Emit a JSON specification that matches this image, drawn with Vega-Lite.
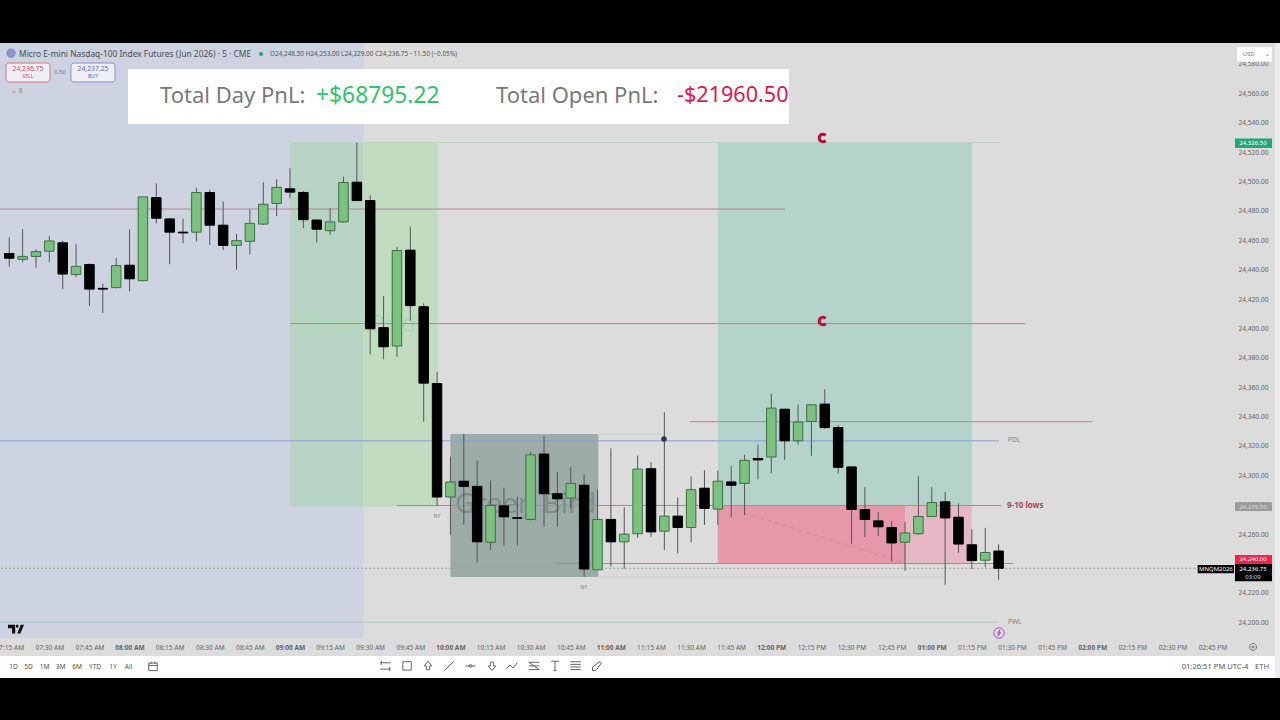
{
"$schema":"https://vega.github.io/schema/vega-lite/v6.json",
"width":1280,"height":720,"autosize":"none","padding":0,"background":"#dcdcdc",
"config":{"view":{"stroke":null},"legend":{"disable":true},"text":{"font":"Noto Sans"}},
"resolve":{"scale":{"color":"independent","size":"independent","shape":"independent","stroke":"independent"}},
"datasets":{
"zones":[
{"t":"2026-05-01T07:00:00Z","t2":"2026-05-01T09:27:30Z","p":24189.3,"p2":24594.2,"kind":"session"},
{"t":"2026-05-01T09:00:00Z","t2":"2026-05-01T09:27:30Z","p":24278.7,"p2":24526.5,"kind":"greenA"},
{"t":"2026-05-01T09:27:30Z","t2":"2026-05-01T09:55:30Z","p":24278.7,"p2":24526.5,"kind":"greenB"},
{"t":"2026-05-01T11:40:00Z","t2":"2026-05-01T13:15:00Z","p":24279.5,"p2":24526.5,"kind":"teal"},
{"t":"2026-05-01T11:40:00Z","t2":"2026-05-01T12:50:00Z","p":24240,"p2":24279.5,"kind":"pinkA"},
{"t":"2026-05-01T12:50:00Z","t2":"2026-05-01T13:15:00Z","p":24240,"p2":24279.5,"kind":"pinkB"},
{"t":"2026-05-01T10:00:00Z","t2":"2026-05-01T10:55:18Z","p":24230.8,"p2":24328.1,"kind":"slate"}
],
"lines":[
{"t":"2026-05-01T07:00:00Z","t2":"2026-05-01T12:05:00Z","p":24481.25,"kind":"mauve"},
{"t":"2026-05-01T09:00:00Z","t2":"2026-05-01T13:35:00Z","p":24403.25,"kind":"rose"},
{"t":"2026-05-01T11:29:36Z","t2":"2026-05-01T14:00:00Z","p":24336.5,"kind":"mauve"},
{"t":"2026-05-01T07:00:00Z","t2":"2026-05-01T13:25:00Z","p":24323.5,"kind":"blue"},
{"t":"2026-05-01T09:40:00Z","t2":"2026-05-01T13:26:00Z","p":24279.5,"kind":"mauve"},
{"t":"2026-05-01T10:39:28Z","t2":"2026-05-01T13:30:22Z","p":24240,"kind":"rose"},
{"t":"2026-05-01T07:00:00Z","t2":"2026-05-01T13:25:00Z","p":24200,"kind":"teal"},
{"t":"2026-05-01T09:00:00Z","t2":"2026-05-01T13:25:30Z","p":24526.5,"kind":"pale"},
{"t":"2026-05-01T10:55:00Z","t2":"2026-05-01T11:18:24Z","p":24328.1,"kind":"faint"},
{"t":"2026-05-01T10:55:00Z","t2":"2026-05-01T13:05:00Z","p":24230.8,"kind":"faint"}
],
"last":[{"t":"2026-05-01T07:00:00Z","t2":"2026-05-01T14:39:12Z","p":24236.75}],
"trend":[{"t":"2026-05-01T11:50:00Z","p":24274.4},{"t":"2026-05-01T12:50:00Z","p":24240.4}],
"marks":[
{"t":"2026-05-01T09:01:51Z","p":24402.3,"text":"Green Bird","style":"wmA"},
{"t":"2026-05-01T10:01:45Z","p":24279.8,"text":"Green Bird","style":"wmB"}
],
"candles":[
{"t":"2026-05-01T07:15:00Z","o":24451,"h":24462,"l":24442,"c":24447.75},
{"t":"2026-05-01T07:20:00Z","o":24447,"h":24467.5,"l":24445,"c":24449},
{"t":"2026-05-01T07:25:00Z","o":24449,"h":24453.75,"l":24441.25,"c":24452.25},
{"t":"2026-05-01T07:30:00Z","o":24452.5,"h":24463,"l":24445,"c":24459.5},
{"t":"2026-05-01T07:35:00Z","o":24458.25,"h":24459.75,"l":24426.75,"c":24437},
{"t":"2026-05-01T07:40:00Z","o":24436.75,"h":24457.5,"l":24435,"c":24442.25},
{"t":"2026-05-01T07:45:00Z","o":24443.5,"h":24444.25,"l":24415.25,"c":24426.75},
{"t":"2026-05-01T07:50:00Z","o":24427.25,"h":24430.5,"l":24410.5,"c":24426.75},
{"t":"2026-05-01T07:55:00Z","o":24427.75,"h":24448,"l":24427.25,"c":24442.75},
{"t":"2026-05-01T08:00:00Z","o":24443,"h":24467.5,"l":24425.25,"c":24433.75},
{"t":"2026-05-01T08:05:00Z","o":24432.5,"h":24489.5,"l":24432,"c":24489.5},
{"t":"2026-05-01T08:10:00Z","o":24489,"h":24498.75,"l":24471.5,"c":24475},
{"t":"2026-05-01T08:15:00Z","o":24474.5,"h":24475.25,"l":24443.75,"c":24465.5},
{"t":"2026-05-01T08:20:00Z","o":24465.5,"h":24474.75,"l":24458,"c":24465},
{"t":"2026-05-01T08:25:00Z","o":24465.5,"h":24495.75,"l":24459.25,"c":24492.5},
{"t":"2026-05-01T08:30:00Z","o":24492.5,"h":24494.5,"l":24456.75,"c":24470.25},
{"t":"2026-05-01T08:35:00Z","o":24470.25,"h":24486.5,"l":24453.25,"c":24456.5},
{"t":"2026-05-01T08:40:00Z","o":24456.5,"h":24464.25,"l":24440,"c":24459.75},
{"t":"2026-05-01T08:45:00Z","o":24459.25,"h":24481,"l":24450.25,"c":24471.5},
{"t":"2026-05-01T08:50:00Z","o":24471,"h":24499.5,"l":24470.25,"c":24484.5},
{"t":"2026-05-01T08:55:00Z","o":24485,"h":24501.5,"l":24476.5,"c":24496},
{"t":"2026-05-01T09:00:00Z","o":24495,"h":24509,"l":24488.5,"c":24492.75},
{"t":"2026-05-01T09:05:00Z","o":24492.5,"h":24493.5,"l":24468.25,"c":24474},
{"t":"2026-05-01T09:10:00Z","o":24473.75,"h":24474.25,"l":24458.5,"c":24467.5},
{"t":"2026-05-01T09:15:00Z","o":24466.5,"h":24481.75,"l":24463.75,"c":24472.5},
{"t":"2026-05-01T09:20:00Z","o":24472.5,"h":24503.25,"l":24472,"c":24499.25},
{"t":"2026-05-01T09:25:00Z","o":24499.5,"h":24526.5,"l":24487,"c":24487},
{"t":"2026-05-01T09:30:00Z","o":24487,"h":24490.5,"l":24382.25,"c":24399.75},
{"t":"2026-05-01T09:35:00Z","o":24400.5,"h":24422,"l":24379,"c":24387.5},
{"t":"2026-05-01T09:40:00Z","o":24388,"h":24455.5,"l":24380.75,"c":24453},
{"t":"2026-05-01T09:45:00Z","o":24453.25,"h":24469.25,"l":24405.25,"c":24415.5},
{"t":"2026-05-01T09:50:00Z","o":24414.75,"h":24417,"l":24336.5,"c":24362.75},
{"t":"2026-05-01T09:55:00Z","o":24362.5,"h":24370.5,"l":24279.5,"c":24285.25},
{"t":"2026-05-01T10:00:00Z","o":24285.25,"h":24312.75,"l":24259.5,"c":24295.5},
{"t":"2026-05-01T10:05:00Z","o":24296,"h":24328.25,"l":24266.25,"c":24292.5},
{"t":"2026-05-01T10:10:00Z","o":24292.5,"h":24310,"l":24240.5,"c":24254.75},
{"t":"2026-05-01T10:15:00Z","o":24254.5,"h":24296.5,"l":24249.25,"c":24279.5},
{"t":"2026-05-01T10:20:00Z","o":24279.25,"h":24291.5,"l":24252.25,"c":24271.75},
{"t":"2026-05-01T10:25:00Z","o":24271.25,"h":24285.5,"l":24252.5,"c":24270.75},
{"t":"2026-05-01T10:30:00Z","o":24270,"h":24316,"l":24269.5,"c":24314},
{"t":"2026-05-01T10:35:00Z","o":24314.5,"h":24326.75,"l":24265,"c":24287.5},
{"t":"2026-05-01T10:40:00Z","o":24287.5,"h":24302.25,"l":24265,"c":24284},
{"t":"2026-05-01T10:45:00Z","o":24284.5,"h":24305.5,"l":24277.5,"c":24294.5},
{"t":"2026-05-01T10:50:00Z","o":24293.25,"h":24300.5,"l":24231,"c":24236.25},
{"t":"2026-05-01T10:55:00Z","o":24235.75,"h":24290.5,"l":24235.5,"c":24270},
{"t":"2026-05-01T11:00:00Z","o":24270,"h":24318.5,"l":24238,"c":24254.75},
{"t":"2026-05-01T11:05:00Z","o":24254.75,"h":24278.25,"l":24236.5,"c":24260},
{"t":"2026-05-01T11:10:00Z","o":24260.25,"h":24313.5,"l":24257.5,"c":24304.25},
{"t":"2026-05-01T11:15:00Z","o":24304.5,"h":24309,"l":24258.25,"c":24261.5},
{"t":"2026-05-01T11:20:00Z","o":24262,"h":24343,"l":24249.25,"c":24272.25},
{"t":"2026-05-01T11:25:00Z","o":24272.25,"h":24285,"l":24247,"c":24264.5},
{"t":"2026-05-01T11:30:00Z","o":24264.5,"h":24299.25,"l":24254.25,"c":24290.25},
{"t":"2026-05-01T11:35:00Z","o":24291.25,"h":24303.5,"l":24266.25,"c":24277.5},
{"t":"2026-05-01T11:40:00Z","o":24277,"h":24303.25,"l":24266.25,"c":24296},
{"t":"2026-05-01T11:45:00Z","o":24295.5,"h":24306.5,"l":24271.5,"c":24293.25},
{"t":"2026-05-01T11:50:00Z","o":24294.5,"h":24314,"l":24273,"c":24310.25},
{"t":"2026-05-01T11:55:00Z","o":24311.5,"h":24321,"l":24297.25,"c":24310.5},
{"t":"2026-05-01T12:00:00Z","o":24312.5,"h":24355.5,"l":24301.5,"c":24345.75},
{"t":"2026-05-01T12:05:00Z","o":24345,"h":24345.25,"l":24310.5,"c":24323.5},
{"t":"2026-05-01T12:10:00Z","o":24323.5,"h":24348.25,"l":24321,"c":24336.25},
{"t":"2026-05-01T12:15:00Z","o":24336.75,"h":24348.5,"l":24313.25,"c":24348},
{"t":"2026-05-01T12:20:00Z","o":24348.5,"h":24358.5,"l":24331.75,"c":24332.5},
{"t":"2026-05-01T12:25:00Z","o":24332.5,"h":24334.25,"l":24301.25,"c":24305.5},
{"t":"2026-05-01T12:30:00Z","o":24305.75,"h":24306,"l":24253.5,"c":24276.75},
{"t":"2026-05-01T12:35:00Z","o":24276.75,"h":24292,"l":24258,"c":24270},
{"t":"2026-05-01T12:40:00Z","o":24269,"h":24275,"l":24258.75,"c":24265},
{"t":"2026-05-01T12:45:00Z","o":24264.5,"h":24269,"l":24241.25,"c":24254},
{"t":"2026-05-01T12:50:00Z","o":24254.5,"h":24268.25,"l":24235,"c":24260.75},
{"t":"2026-05-01T12:55:00Z","o":24260.25,"h":24299.5,"l":24259.5,"c":24272},
{"t":"2026-05-01T13:00:00Z","o":24272,"h":24292,"l":24271.5,"c":24281.5},
{"t":"2026-05-01T13:05:00Z","o":24282,"h":24288.75,"l":24225.5,"c":24271},
{"t":"2026-05-01T13:10:00Z","o":24271.5,"h":24281,"l":24247.25,"c":24253.25},
{"t":"2026-05-01T13:15:00Z","o":24252.75,"h":24263.25,"l":24236.25,"c":24242},
{"t":"2026-05-01T13:20:00Z","o":24242.25,"h":24264.25,"l":24237.5,"c":24247.5},
{"t":"2026-05-01T13:25:00Z","o":24248.5,"h":24253,"l":24229,"c":24236.75}
],
"panels":[
{"t":"2026-05-01T07:00:00Z","t2":"2026-05-01T15:12:00Z","p":24594.24,"p2":24630,"kind":"black"},
{"t":"2026-05-01T07:00:00Z","t2":"2026-05-01T15:12:00Z","p":24130,"p2":24162.1,"kind":"black"},
{"t":"2026-05-01T07:00:00Z","t2":"2026-05-01T15:08:21Z","p":24162.1,"p2":24177.1,"kind":"white"},
{"t":"2026-05-01T15:08:21Z","t2":"2026-05-01T15:12:00Z","p":24162.1,"p2":24594.24,"kind":"strip"},
{"t":"2026-05-01T07:59:25Z","t2":"2026-05-01T12:06:36Z","p":24539.1,"p2":24576.5,"kind":"white"},
{"t":"2026-05-01T14:54:09Z","t2":"2026-05-01T15:07:15Z","p":24581.5,"p2":24591.3,"kind":"white"},
{"t":"2026-05-01T14:53:24Z","t2":"2026-05-01T15:07:15Z","p":24522.8,"p2":24529.2,"kind":"tagGreen"},
{"t":"2026-05-01T14:53:24Z","t2":"2026-05-01T15:07:15Z","p":24275.7,"p2":24281.7,"kind":"tagGray"},
{"t":"2026-05-01T14:53:24Z","t2":"2026-05-01T15:07:15Z","p":24239.7,"p2":24245.8,"kind":"tagRed"},
{"t":"2026-05-01T14:53:24Z","t2":"2026-05-01T15:07:15Z","p":24227.9,"p2":24239.7,"kind":"black"},
{"t":"2026-05-01T14:39:27Z","t2":"2026-05-01T14:53:02Z","p":24233.3,"p2":24239,"kind":"black"}
],
"boxes":[
{"t":"2026-05-01T07:13:47Z","t2":"2026-05-01T07:30:15Z","p":24567.7,"p2":24580.6,"kind":"sell"},
{"t":"2026-05-01T07:38:06Z","t2":"2026-05-01T07:54:34Z","p":24567.7,"p2":24580.6,"kind":"buy"}
],
"left":[
{"t":"2026-05-01T08:11:23Z","p":24558.2,"text":"Total Day PnL:","style":"pnl"},
{"t":"2026-05-01T09:09:44Z","p":24558.2,"text":"+$68795.22","style":"gain"},
{"t":"2026-05-01T10:17:02Z","p":24558.2,"text":"Total Open PnL:","style":"pnl"},
{"t":"2026-05-01T11:24:44Z","p":24558.2,"text":"-$21960.50","style":"loss"},
{"t":"2026-05-01T07:18:40Z","p":24586.75,"text":"Micro E-mini Nasdaq-100 Index Futures (Jun 2026) · 5 · CME","style":"title"},
{"t":"2026-05-01T08:52:31Z","p":24586.75,"text":"O24,248.50 H24,253.00 L24,229.00 C24,236.75 −11.50 (−0.05%)","style":"ohlc"},
{"t":"2026-05-01T13:28:30Z","p":24324.1,"text":"PDL","style":"note"},
{"t":"2026-05-01T13:28:30Z","p":24200.2,"text":"PWL","style":"note"},
{"t":"2026-05-01T07:15:40Z","p":24561.5,"text":"⌄ 8","style":"note"}
],
"bold":[
{"t":"2026-05-01T13:28:09Z","p":24279.2,"text":"9-10  lows"}
],
"center":[
{"t":"2026-05-01T07:22:00Z","p":24576.4,"text":"24,236.75","style":"sell"},
{"t":"2026-05-01T07:22:00Z","p":24571.8,"text":"SELL","style":"sellS"},
{"t":"2026-05-01T07:34:00Z","p":24574.5,"text":"0.50","style":"mid"},
{"t":"2026-05-01T07:46:20Z","p":24576.4,"text":"24,237.25","style":"buy"},
{"t":"2026-05-01T07:46:20Z","p":24571.8,"text":"BUY","style":"buyS"},
{"t":"2026-05-01T14:58:30Z","p":24586.75,"text":"USD","style":"mid"},
{"t":"2026-05-01T15:05:30Z","p":24586.75,"text":"⌄","style":"mid"},
{"t":"2026-05-01T15:00:09Z","p":24526,"text":"24,526.50","style":"tag"},
{"t":"2026-05-01T15:00:09Z","p":24278.7,"text":"24,279.50","style":"dim"},
{"t":"2026-05-01T15:00:09Z","p":24242.8,"text":"24,240.00","style":"tag"},
{"t":"2026-05-01T15:00:09Z","p":24236,"text":"24,236.75","style":"tag"},
{"t":"2026-05-01T15:00:09Z","p":24231.1,"text":"03:09","style":"dim"},
{"t":"2026-05-01T14:46:15Z","p":24236.1,"text":"MNQM2026","style":"tagS"},
{"t":"2026-05-01T09:54:57Z","p":24272.3,"text":"NY","style":"ny"},
{"t":"2026-05-01T10:49:57Z","p":24224,"text":"NY","style":"ny"},
{"t":"2026-05-01T07:16:36Z","p":24169.6,"text":"1D","style":"tool"},
{"t":"2026-05-01T07:22:12Z","p":24169.6,"text":"5D","style":"tool"},
{"t":"2026-05-01T07:28:12Z","p":24169.6,"text":"1M","style":"tool"},
{"t":"2026-05-01T07:34:12Z","p":24169.6,"text":"3M","style":"tool"},
{"t":"2026-05-01T07:40:21Z","p":24169.6,"text":"6M","style":"tool"},
{"t":"2026-05-01T07:47:05Z","p":24169.6,"text":"YTD","style":"tool"},
{"t":"2026-05-01T07:53:49Z","p":24169.6,"text":"1Y","style":"tool"},
{"t":"2026-05-01T07:59:36Z","p":24169.6,"text":"All","style":"tool"},
{"t":"2026-05-01T14:45:57Z","p":24169.6,"text":"01:26:51 PM UTC-4","style":"time"},
{"t":"2026-05-01T15:03:30Z","p":24169.6,"text":"ETH","style":"time"}
],
"icons":[
{"t":"2026-05-01T08:08:46Z","p":24170,"icon":"calendar"},
{"t":"2026-05-01T09:35:43Z","p":24170.3,"icon":"channel"},
{"t":"2026-05-01T09:43:46Z","p":24170.3,"icon":"square"},
{"t":"2026-05-01T09:51:37Z","p":24170.3,"icon":"up"},
{"t":"2026-05-01T09:59:28Z","p":24170.3,"icon":"line"},
{"t":"2026-05-01T10:07:31Z","p":24170.3,"icon":"hline"},
{"t":"2026-05-01T10:15:33Z","p":24170.3,"icon":"down"},
{"t":"2026-05-01T10:23:02Z","p":24170.3,"icon":"zig"},
{"t":"2026-05-01T10:31:15Z","p":24170.3,"icon":"fib"},
{"t":"2026-05-01T10:39:06Z","p":24170.3,"icon":"letter"},
{"t":"2026-05-01T10:46:46Z","p":24170.3,"icon":"rows"},
{"t":"2026-05-01T10:54:48Z","p":24170.3,"icon":"pen"},
{"t":"2026-05-01T15:00:09Z","p":24183.2,"icon":"gear"},
{"t":"2026-05-01T13:25:09Z","p":24192.7,"icon":"bolt"}
],
"magnets":[
{"t":"2026-05-01T12:19:20Z","p":24529.6},
{"t":"2026-05-01T12:19:20Z","p":24405.05}
],
"logo":[{"t":"2026-05-01T07:17:32Z","p":24195.4}],
"solid":[
{"t":"2026-05-01T07:15:40Z","p":24587.3,"icon":"flag"},
{"t":"2026-05-01T08:49:09Z","p":24586.75,"icon":"dot"},
{"t":"2026-05-01T11:19:52Z","p":24324.7,"icon":"eye"}
]
},
"encoding":{
"x":{"field":"t","type":"temporal","title":null,
 "scale":{"type":"utc","nice":false,"padding":0,"domain":[1777619493000,1777648214000]},
 "axis":{"orient":"bottom","offset":-73,"domain":false,"ticks":false,"grid":false,"labelPadding":0,"labelBaseline":"middle","labelFlush":false,"labelOverlap":false,"labelFont":"Noto Sans","labelFontSize":6.6,"labelColor":"#666666","format":"%I:%M %p",
  "labelFontWeight":{"condition":{"test":"utcminutes(datum.value)===0","value":"bold"},"value":"normal"},
  "values":[1777619700000,1777620600000,1777621500000,1777622400000,1777623300000,1777624200000,1777625100000,1777626000000,1777626900000,1777627800000,1777628700000,1777629600000,1777630500000,1777631400000,1777632300000,1777633200000,1777634100000,1777635000000,1777635900000,1777636800000,1777637700000,1777638600000,1777639500000,1777640400000,1777641300000,1777642200000,1777643100000,1777644000000,1777644900000,1777645800000,1777646700000]}},
"y":{"field":"p","type":"quantitative","title":null,
 "scale":{"domain":[24133.5,24623.5],"nice":false,"zero":false,"padding":0},
 "axis":{"orient":"right","offset":-42,"domain":false,"ticks":false,"grid":false,"labelPadding":0,"labelAlign":"left","labelFont":"Noto Sans","labelFontSize":6.6,"labelColor":"#666666","format":",.2f","labelOverlap":false,
  "values":[24200,24220,24240,24260,24280,24300,24320,24340,24360,24380,24400,24420,24440,24460,24480,24500,24520,24540,24560,24580]}}
},
"layer":[
{"data":{"name":"zones"},"mark":{"type":"rect","clip":true},
 "encoding":{"x2":{"field":"t2"},"y2":{"field":"p2"},
  "color":{"field":"kind","type":"nominal","scale":{"domain":["session","greenA","greenB","teal","pinkA","pinkB","slate"],"range":["#cdd3e0","#b7d3c3","#c2dcc2","#b4d3cb","#e498aa","#e6b8c6","#9aaba8"]}}}},
{"data":{"name":"marks"},"mark":{"type":"text","align":"left","baseline":"middle"},
 "encoding":{"text":{"field":"text"},
  "color":{"field":"style","type":"nominal","scale":{"domain":["wmA","wmB"],"range":["#aedcb2","#7c8e8b"]}},
  "size":{"field":"style","type":"nominal","scale":{"type":"ordinal","domain":["wmA","wmB"],"range":[24,28]}}}},
{"data":{"name":"lines"},"mark":{"type":"rule","clip":true,"strokeWidth":1},
 "encoding":{"x2":{"field":"t2"},
  "color":{"field":"kind","type":"nominal","scale":{"domain":["mauve","rose","blue","teal","pale","faint"],"range":["#aa8a92","#b87f8e","#8e9cd8","#a9cdc4","#bcd6bc","#cecece"]}}}},
{"data":{"name":"last"},"mark":{"type":"rule","clip":true,"strokeWidth":1,"strokeDash":[2,2],"color":"#9e9e9e"},
 "encoding":{"x2":{"field":"t2"}}},
{"data":{"name":"trend"},"mark":{"type":"line","strokeWidth":1,"strokeDash":[4,4],"color":"#d98a9c"},"encoding":{}},
{"data":{"name":"candles"},"mark":{"type":"rule","strokeWidth":1,"color":"#555555"},
 "encoding":{"y":{"field":"l","type":"quantitative","title":null,"axis":{"orient":"right","offset":-42,"domain":false,"ticks":false,"grid":false,"labelPadding":0,"labelAlign":"left","labelFont":"Noto Sans","labelFontSize":6.6,"labelColor":"#666666","format":",.2f","labelOverlap":false,"values":[24200,24220,24240,24260,24280,24300,24320,24340,24360,24380,24400,24420,24440,24460,24480,24500,24520,24540,24560,24580]},"scale":{"domain":[24133.5,24623.5],"nice":false,"zero":false,"padding":0}},"y2":{"field":"h"}}},
{"data":{"name":"candles"},"mark":{"type":"bar","size":9.5,"strokeWidth":1},
 "encoding":{"y":{"field":"o","type":"quantitative","title":null,"axis":{"orient":"right","offset":-42,"domain":false,"ticks":false,"grid":false,"labelPadding":0,"labelAlign":"left","labelFont":"Noto Sans","labelFontSize":6.6,"labelColor":"#666666","format":",.2f","labelOverlap":false,"values":[24200,24220,24240,24260,24280,24300,24320,24340,24360,24380,24400,24420,24440,24460,24480,24500,24520,24540,24560,24580]},"scale":{"domain":[24133.5,24623.5],"nice":false,"zero":false,"padding":0}},"y2":{"field":"c"},
  "fill":{"condition":{"test":"datum.o>datum.c","value":"#000000"},"value":"#7ac27e"},
  "stroke":{"condition":{"test":"datum.o>datum.c","value":"#000000"},"value":"#3f6d48"}}},
{"data":{"name":"panels"},"mark":{"type":"rect","clip":true},
 "encoding":{"x2":{"field":"t2"},"y2":{"field":"p2"},
  "color":{"field":"kind","type":"nominal","scale":{"domain":["black","white","strip","tagGreen","tagGray","tagRed"],"range":["#000000","#ffffff","#ececec","#1fa87c","#9b9b9b","#e8264e"]}}}},
{"data":{"name":"boxes"},"mark":{"type":"rect","fill":"#eef0f6","strokeWidth":1,"cornerRadius":3},
 "encoding":{"x2":{"field":"t2"},"y2":{"field":"p2"},
  "stroke":{"field":"kind","type":"nominal","scale":{"domain":["sell","buy"],"range":["#e07080","#8a90d8"]}}}},
{"data":{"name":"left"},"mark":{"type":"text","align":"left","baseline":"middle"},
 "encoding":{"text":{"field":"text"},
  "color":{"field":"style","type":"nominal","scale":{"domain":["pnl","gain","loss","title","ohlc","note"],"range":["#7a7a7a","#35c26c","#e0174c","#4d4d4d","#555555","#808080"]}},
  "size":{"field":"style","type":"nominal","scale":{"type":"ordinal","domain":["pnl","gain","loss","title","ohlc","note"],"range":[22,22.8,21.6,8.4,6.4,6.6]}}}},
{"data":{"name":"bold"},"mark":{"type":"text","align":"left","baseline":"middle","fontWeight":"bold","fontSize":8,"color":"#a8445c"},
 "encoding":{"text":{"field":"text"}}},
{"data":{"name":"center"},"mark":{"type":"text","align":"center","baseline":"middle"},
 "encoding":{"text":{"field":"text"},
  "color":{"field":"style","type":"nominal","scale":{"domain":["sell","sellS","mid","buy","buyS","tag","tagS","dim","ny","tool","time"],"range":["#d9495f","#d9495f","#777777","#5a63d0","#5a63d0","#ffffff","#ffffff","#dddddd","#808080","#555555","#555555"]}},
  "size":{"field":"style","type":"nominal","scale":{"type":"ordinal","domain":["sell","sellS","mid","buy","buyS","tag","tagS","dim","ny","tool","time"],"range":[6.8,5.2,6,6.8,5.2,6,6,6,5.2,6.6,7.6]}}}},
{"data":{"name":"icons"},"mark":{"type":"point","filled":false,"strokeWidth":1,"opacity":1},
 "encoding":{
  "shape":{"field":"icon","type":"nominal","scale":{"domain":["calendar","channel","square","up","line","hline","down","zig","fib","letter","rows","pen","gear","bolt"],
   "range":["M-0.9,-0.7H0.9V0.9H-0.9ZM-0.9,-0.2H0.9M-0.4,-1V-0.5M0.4,-1V-0.5","M-1,-0.6H1M-1,0.6H1M-0.8,-1V-0.2M0.8,0.2V1","M-0.8,-0.8H0.8V0.8H-0.8Z","M0,-1L0.8,0H0.35V0.8H-0.35V0H-0.8Z","M-0.9,0.9L0.9,-0.9","M-1,0H1M0.3,0A0.3,0.3 0 1 1 -0.3,0A0.3,0.3 0 1 1 0.3,0","M0,1L0.8,0H0.35V-0.8H-0.35V0H-0.8Z","M-1,0.5L-0.4,-0.2L0.2,0.4L1,-0.6","M-1,-0.7H1M-1,0H1M-1,0.7H1M-1,-0.7L1,0.7","M-0.7,-0.9H0.7M0,-0.9V0.9M-0.3,0.9H0.3","M-1,-0.8H1M-1,-0.3H1M-1,0.2H1M-1,0.7H1","M-0.9,0.9V0.2L0.6,-0.9L0.9,-0.6L-0.2,0.9Z","M0.9,0A0.9,0.9 0 1 1 -0.9,0A0.9,0.9 0 1 1 0.9,0M0.3,0A0.3,0.3 0 1 1 -0.3,0A0.3,0.3 0 1 1 0.3,0","M1,0A1,1 0 1 1 -1,0A1,1 0 1 1 1,0M0.2,-0.6L-0.3,0.1H0L-0.2,0.6L0.3,-0.1H0Z"]}},
  "color":{"field":"icon","type":"nominal","scale":{"domain":["calendar","channel","square","up","line","hline","down","zig","fib","letter","rows","pen","gear","bolt"],"range":["#666666","#666666","#666666","#666666","#666666","#666666","#666666","#666666","#666666","#666666","#666666","#666666","#777777","#a855c8"]}},
  "size":{"field":"icon","type":"nominal","scale":{"type":"ordinal","domain":["calendar","channel","square","up","line","hline","down","zig","fib","letter","rows","pen","gear","bolt"],"range":[90,110,110,90,110,100,90,110,110,110,110,100,60,110]}}}},
{"data":{"name":"magnets"},"mark":{"type":"point","filled":false,"opacity":1,"strokeWidth":3,"size":56,"color":"#b5123c","shape":"M0.7,-0.7A1,1 0 1 0 0.7,0.7"},"encoding":{}},
{"data":{"name":"logo"},"mark":{"type":"point","filled":true,"opacity":1,"size":256,"color":"#111111","shape":"M-1,-0.55H-0.1V0.55H-0.5V-0.1H-1ZM1,-0.55L0.55,0.55H0.15L0.6,-0.55ZM0,-0.55H0.3V-0.2H0Z"},"encoding":{}},
{"data":{"name":"solid"},"mark":{"type":"point","filled":true,"opacity":1},
 "encoding":{
  "color":{"field":"icon","type":"nominal","scale":{"domain":["flag","dot","eye"],"range":["#8b93c9","#26a67c","#2e3550"]}},
  "size":{"field":"icon","type":"nominal","scale":{"type":"ordinal","domain":["flag","dot","eye"],"range":[90,18,30]}}}}
]
}
